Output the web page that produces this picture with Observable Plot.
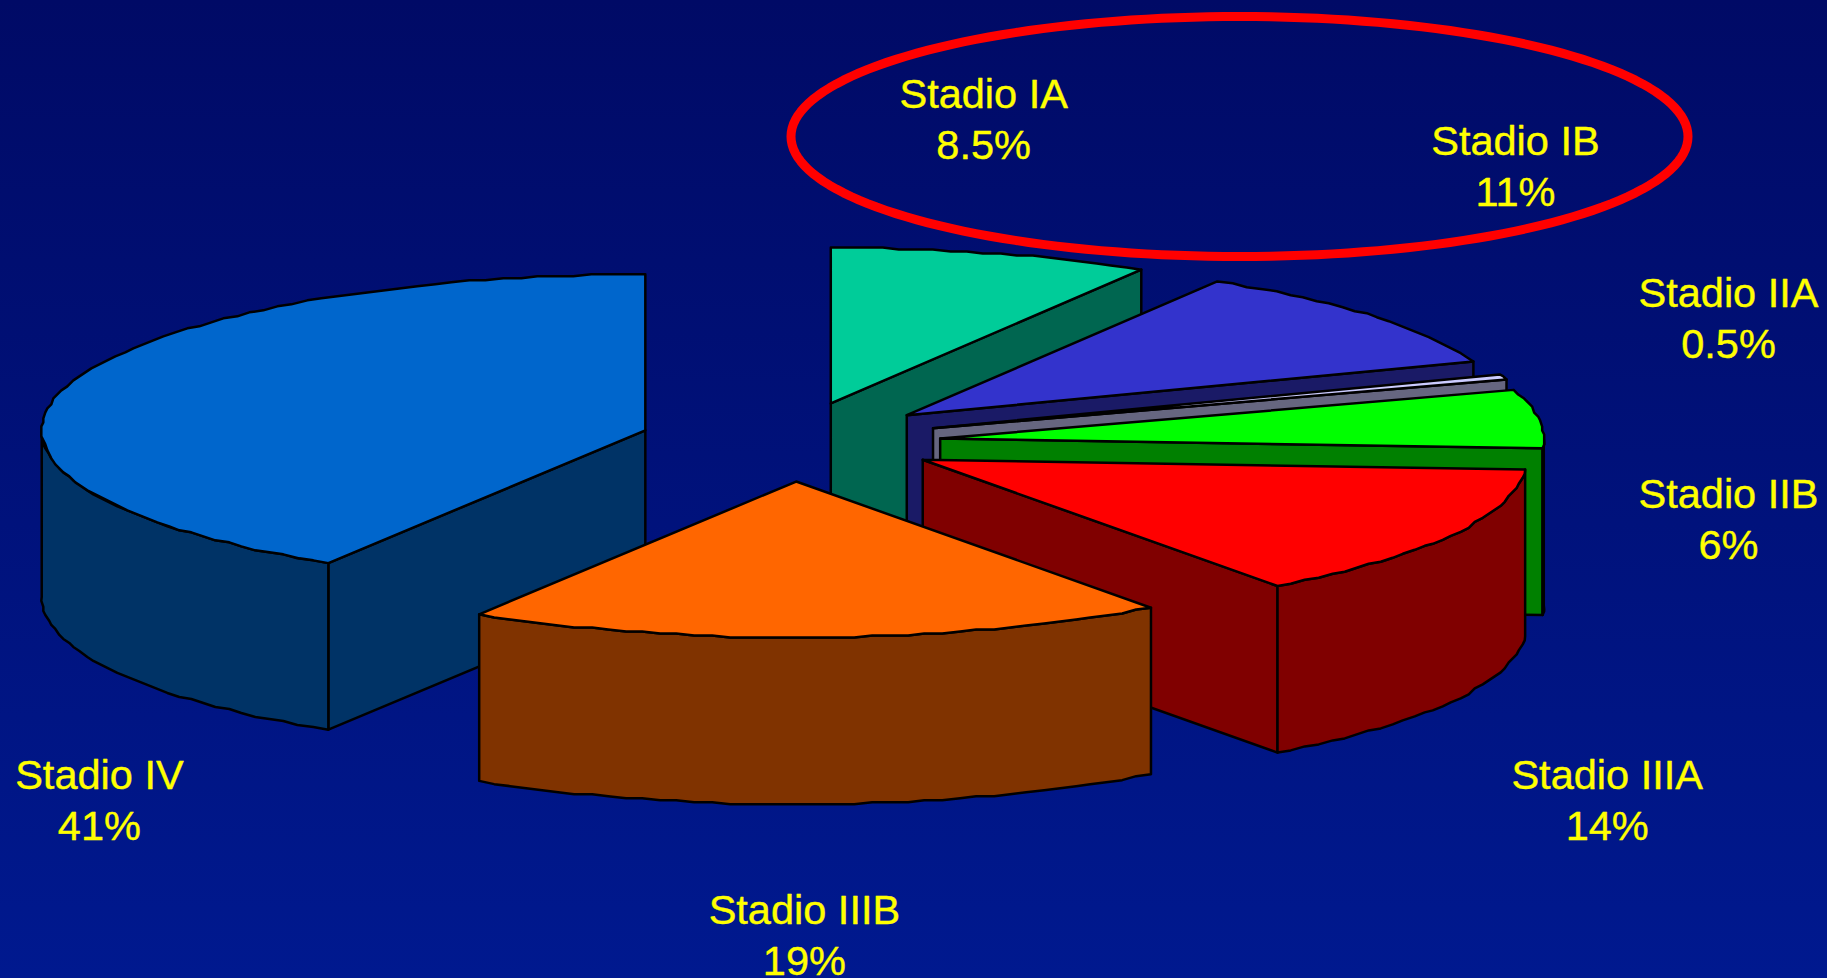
<!DOCTYPE html>
<html>
<head>
<meta charset="utf-8">
<script src="https://cdn.jsdelivr.net/npm/d3@7"></script>
<script src="https://cdn.jsdelivr.net/npm/@observablehq/plot@0.6"></script>
<style>
html,body{margin:0;padding:0;background:#000f70;overflow:hidden}
</style>
</head>
<body>
<div id="chart"></div>
<script>
// Data
const stages = ["Stadio IA","Stadio IB","Stadio IIA","Stadio IIB","Stadio IIIA","Stadio IIIB","Stadio IV"];
const shares = [8.6,10.8,0.55,6.05,14,18.8,41.2];
const shareLabels = ["8.5%","11%","0.5%","6%","14%","19%","41%"];
const topColors = ["#00CC99","#3333CC","#CCCCFF","#00FF00","#FF0000","#FF6600","#0066CC"];
const sideColors = ["#006650","#1A1A66","#666680","#008000","#800000","#803300","#003366"];
const drawOrder = [0,1,2,3,6,4,5];
// Small vertical adjustment of each exploded slice, in pie units
const nudgeY = [0,0.006,0,-0.016,0,-0.01,0];
// Label centres, in pie units (1 = pie radius along each axis)
const labelX = [0.32,1.201,1.554,1.554,1.353,0.023,-1.145];
const labelY = [2.077,1.772,0.801,-0.488,-2.292,-3.154,-2.292];

// Pie projection
const W = 1827, H = 978;
const cx = 790, cy = 440.5, rx = 603.6, ry = 156;   // px per pie unit
const depth = 1.068, explode = 0.25;
const gridX = 2/rx, gridY = 2/ry;
const snap = (v,g) => Math.round(v/g)*g;

const faces = [];
let cum = 0;
const arcs = shares.map(s => { const a0 = cum; cum += s; return [a0,cum]; });
const ang = p => p/100*2*Math.PI;
for (const i of drawOrder) {
  const [p0,p1] = arcs[i];
  const a0 = ang(p0), a1 = ang(p1), m = (a0+a1)/2;
  const ox = explode*Math.sin(m), oy = explode*Math.cos(m)+nudgeY[i];
  const corner = (a,z=0) => ({x: ox+Math.sin(a), y: oy+Math.cos(a)-z});
  const pt = (a,z=0) => ({x: ox+snap(Math.sin(a),gridX), y: oy+snap(Math.cos(a),gridY)-z});
  const apex = (z=0) => ({x:ox, y:oy-z});
  const arcPts = (s,e,z=0) => {
    const n = Math.max(1,Math.ceil((e-s)/0.03)), out=[corner(s,z)];
    for (let k=1;k<n;k++) out.push(pt(s+(e-s)*k/n,z));
    out.push(corner(e,z));
    return out;
  };
  const close = a => [...a,a[0]];
  // radial wall facing the viewer
  if (Math.sin(a1) > 0) {
    faces.push({color:sideColors[i],pts:close([corner(a1),apex(),apex(depth),corner(a1,depth)])});
  }
  if (Math.sin(a0) < 0) {
    faces.push({color:sideColors[i],pts:close([apex(),corner(a0),corner(a0,depth),apex(depth)])});
  }
  // outer rim, lower half only
  const s = Math.max(a0,Math.PI/2), e = Math.min(a1,1.5*Math.PI);
  if (e > s) {
    faces.push({color:sideColors[i],pts:close([...arcPts(s,e),...arcPts(s,e,depth).reverse()])});
  }
  // top
  faces.push({color:topColors[i],pts:close([apex(),...arcPts(a0,a1)])});
}

// Highlight ring round the two stage I labels
const ringCx = (1239-cx)/rx, ringCy = (cy-136)/ry, ringRx = 448.5/rx, ringRy = 120/ry;
const ring = d3.range(0,361,2).map(t => ({
  x: ringCx+ringRx*Math.cos(t*Math.PI/180),
  y: ringCy+ringRy*Math.sin(t*Math.PI/180)
}));

const labels = stages.map((s,i) => ({text:s+"\n"+shareLabels[i],x:labelX[i],y:labelY[i]}));

const chart = Plot.plot({
  width: W, height: H,
  margin: 0,
  x: {axis:null, domain:[-cx/rx,(W-cx)/rx], range:[0,W]},
  y: {axis:null, domain:[(cy-H)/ry,cy/ry], range:[H,0]},
  style: {background:"linear-gradient(#000A66,#00198F)", display:"block"},
  marks: [
    ...faces.map(f => Plot.line(f.pts,{x:"x",y:"y",fill:f.color,stroke:"#000",strokeWidth:2.5,strokeLinejoin:"round",strokeOpacity:1})),
    Plot.line(ring,{x:"x",y:"y",stroke:"#FF0000",strokeWidth:9}),
    Plot.text(labels,{x:"x",y:"y",text:"text",fill:"#FFFF00",stroke:"#FFFF00",strokeWidth:0.4,fontSize:41.5,fontFamily:"Liberation Sans",lineHeight:1.225,textAnchor:"middle"})
  ]
});
document.getElementById("chart").appendChild(chart);
</script>
</body>
</html>
